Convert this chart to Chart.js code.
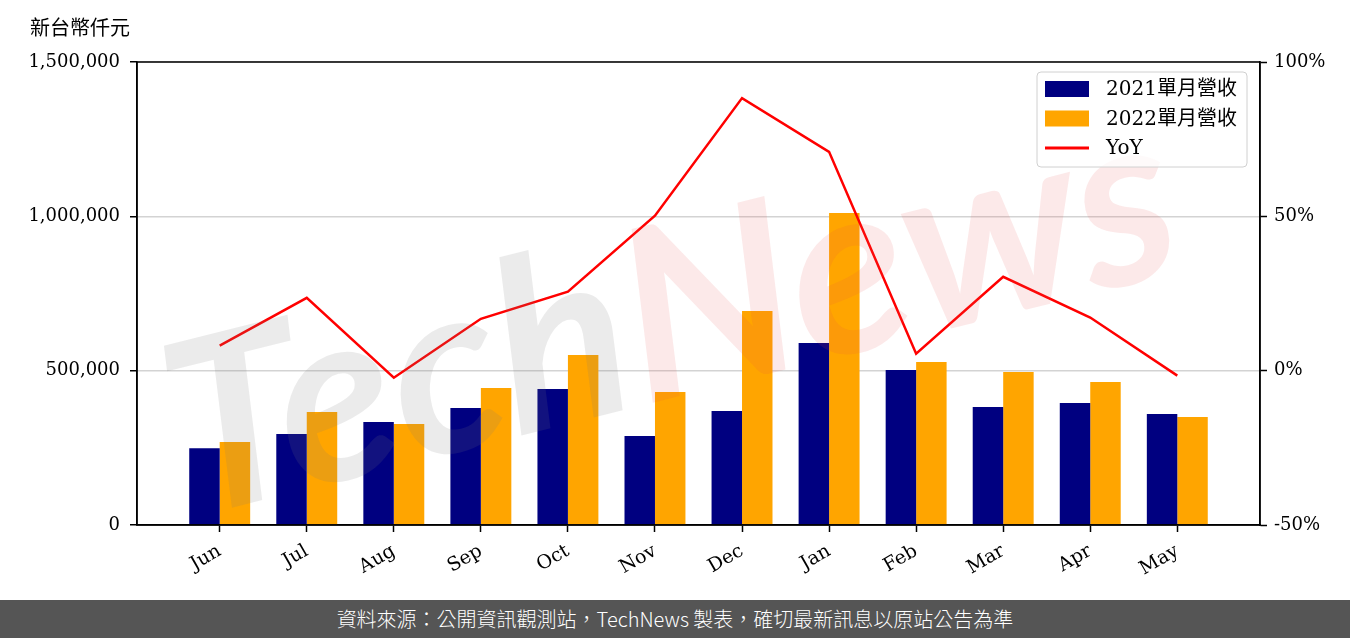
<!DOCTYPE html>
<html>
<head>
<meta charset="utf-8">
<script src="https://cdn.jsdelivr.net/npm/chart.js@4.4.1/dist/chart.umd.min.js"></script>
<style>
  html, body { margin: 0; padding: 0; background: #fff; }
  #wrap { position: relative; width: 1350px; height: 600px; }
  #footer {
    width: 1350px; height: 38px; background: #555555; color: #fff;
    font-family: "Noto Sans CJK TC", "Noto Sans", sans-serif; font-size: 20px;
    text-align: center; line-height: 38px; font-weight: 300;
  }
</style>
</head>
<body>
<div id="wrap"><canvas id="revChart"></canvas></div>
<div id="footer">資料來源：公開資訊觀測站，TechNews 製表，確切最新訊息以原站公告為準</div>
<script>
// Monthly revenue (NT$ thousand) and YoY %
const months = ['Jun', 'Jul', 'Aug', 'Sep', 'Oct', 'Nov', 'Dec', 'Jan', 'Feb', 'Mar', 'Apr', 'May'];
const rev2021 = [249000, 295000, 334000, 379000, 441000, 288000, 369000, 590000, 502000, 382000, 395000, 360000];
const rev2022 = [269000, 366000, 327000, 444000, 551000, 431000, 693000, 1011000, 528000, 496000, 463000, 350000];
const yoy = [8.1, 23.6, -2.3, 16.8, 25.6, 50.2, 88.3, 70.9, 5.5, 30.4, 17.2, -1.6];
const leftTicks = [0, 500000, 1000000, 1500000];
const rightTicks = [-50, 0, 50, 100];

const serif = '"DejaVu Serif", "Liberation Serif", serif';
const toPoints = arr => arr.map((v, i) => ({ x: i, y: v }));

// Frame, unit label, watermark and legend
const decorPlugin = {
    id: 'decor',
    afterDatasetsDraw(chart) {
        const ctx = chart.ctx;
        ctx.save();
        ctx.translate(625, 330);
        ctx.rotate(-14 * Math.PI / 180);
        ctx.font = 'italic bold 240px Lato, "DejaVu Sans", sans-serif';
        const wT = ctx.measureText('Tech').width;
        const wN = ctx.measureText('News').width;
        const s = 1030 / (wT + wN);
        ctx.scale(s, 1);
        ctx.textBaseline = 'middle';
        ctx.textAlign = 'right';
        ctx.fillStyle = 'rgba(120,120,120,0.15)';
        ctx.fillText('Tech', 0, 0);
        ctx.textAlign = 'left';
        ctx.fillStyle = 'rgba(230,70,70,0.12)';
        ctx.fillText('News', 0, 0);
        ctx.restore();
    },
    afterDraw(chart) {
        const ctx = chart.ctx;
        const a = chart.chartArea;
        ctx.save();
        // plot frame
        ctx.strokeStyle = '#000';
        ctx.lineWidth = 1.5;
        ctx.strokeRect(a.left, a.top, a.right - a.left, a.bottom - a.top);

        // unit label
        ctx.fillStyle = '#000';
        ctx.font = '20px "Noto Sans CJK TC", sans-serif';
        ctx.textBaseline = 'middle';
        ctx.textAlign = 'left';
        ctx.fillText('新台幣仟元', 30, 27);

        // legend
        const bx = 1037, by = 72, bw = 210, bh = 95;
        ctx.fillStyle = 'rgba(255,255,255,0.8)';
        ctx.strokeStyle = '#d0d0d0';
        ctx.lineWidth = 1;
        ctx.beginPath();
        ctx.roundRect(bx, by, bw, bh, 4);
        ctx.fill();
        ctx.stroke();
        ctx.font = '20px ' + serif + ', "Noto Sans CJK TC"';
        chart.data.datasets.forEach((ds, i) => {
            const cy = 89 + i * 29.5;
            if (ds.type === 'line') {
                ctx.strokeStyle = ds.borderColor;
                ctx.lineWidth = 3;
                ctx.beginPath();
                ctx.moveTo(1045, cy);
                ctx.lineTo(1089, cy);
                ctx.stroke();
            } else {
                ctx.fillStyle = ds.backgroundColor;
                ctx.fillRect(1045, cy - 8, 44, 16);
            }
            ctx.fillStyle = '#000';
            ctx.fillText(ds.label, 1106, cy + 1);
        });
        ctx.restore();
    }
};

new Chart(document.getElementById('revChart'), {
    type: 'bar',
    data: {
        datasets: [
            {
                label: '2021單月營收',
                data: toPoints(rev2021),
                backgroundColor: '#000080',
                yAxisID: 'y',
                categoryPercentage: 0.7,
                barPercentage: 1.0,
                order: 2
            },
            {
                label: '2022單月營收',
                data: toPoints(rev2022),
                backgroundColor: '#FFA500',
                yAxisID: 'y',
                categoryPercentage: 0.7,
                barPercentage: 1.0,
                order: 2
            },
            {
                type: 'line',
                label: 'YoY',
                data: toPoints(yoy),
                borderColor: '#FF0000',
                borderWidth: 2.5,
                pointRadius: 0,
                tension: 0,
                yAxisID: 'y1',
                order: 1
            }
        ]
    },
    options: {
        responsive: true,
        maintainAspectRatio: false,
        animation: false,
        layout: { padding: { top: 62, left: 0, right: 0, bottom: 0 } },
        plugins: {
            legend: { display: false },
            tooltip: { enabled: false }
        },
        scales: {
            x: {
                type: 'linear',
                min: -0.95,
                max: 11.95,
                offset: false,
                afterBuildTicks: scale => {
                    scale.ticks = months.map((m, i) => ({ value: i }));
                },
                afterFit: scale => { scale.height = 75; },
                grid: { offset: false, drawOnChartArea: false, tickLength: 7, tickColor: '#000', tickWidth: 1.5 },
                border: { display: true, color: '#000', width: 1.5 },
                ticks: {
                    minRotation: 30,
                    maxRotation: 30,
                    padding: 8,
                    color: '#000',
                    font: { family: serif, size: 19 },
                    callback: v => months[v]
                }
            },
            y: {
                position: 'left',
                min: 0,
                max: 1500000,
                afterBuildTicks: scale => {
                    scale.ticks = leftTicks.map(v => ({ value: v }));
                },
                afterFit: scale => { scale.width = 137; },
                grid: { color: '#d3d3d3', lineWidth: 1.5, tickLength: 7, tickColor: '#000', tickWidth: 1.5 },
                border: { display: true, color: '#000', width: 1.5 },
                ticks: {
                    color: '#000',
                    padding: 10,
                    font: { family: serif, size: 18 },
                    callback: v => v.toLocaleString('en-US')
                }
            },
            y1: {
                position: 'right',
                min: -50,
                max: 100,
                afterBuildTicks: scale => {
                    scale.ticks = rightTicks.map(v => ({ value: v }));
                },
                afterFit: scale => { scale.width = 90; },
                grid: { drawOnChartArea: false, tickLength: 7, tickColor: '#000', tickWidth: 1.5 },
                border: { display: true, color: '#000', width: 1.5 },
                ticks: {
                    color: '#000',
                    padding: 7,
                    font: { family: serif, size: 18 },
                    callback: v => v + '%'
                }
            }
        }
    },
    plugins: [decorPlugin]
});
</script>
</body>
</html>
